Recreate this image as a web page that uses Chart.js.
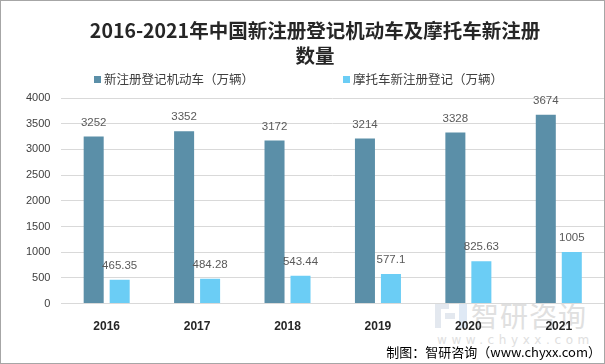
<!DOCTYPE html>
<html><head><meta charset="utf-8">
<script src="https://cdn.jsdelivr.net/npm/chart.js@4"></script>
<style>
html,body{margin:0;padding:0;background:#fff;}
#wrap{position:relative;width:605px;height:364px;box-sizing:border-box;border:1px solid #a6a6a6;overflow:hidden;}
canvas{position:absolute;left:0;top:0;}
.wm{position:absolute;color:#e0e0e0;font-family:"Noto Sans CJK SC";line-height:1;white-space:nowrap;}
.lg{position:absolute;background:#e3e8ef;}
</style></head><body>
<div id="wrap">
<div class="lg" style="left:434px;top:302px;width:14px;height:6px;"></div>
<div class="lg" style="left:434px;top:308px;width:6px;height:19px;"></div>
<div class="lg" style="left:444px;top:312px;width:10px;height:6px;"></div>
<div class="lg" style="left:458px;top:302px;width:8px;height:25px;background:#dfe9f5;"></div>
<div class="wm" style="left:470px;top:300px;font-size:28px;letter-spacing:1px;">智研咨询</div>
<div class="wm" style="left:436px;top:333px;font-size:12px;letter-spacing:4.6px;font-family:'DejaVu Sans';">www.chyxx.com</div>
<canvas id="c" width="603" height="362"></canvas>
</div>
<script>
const categories = ['2016','2017','2018','2019','2020','2021'];
const motorVehicles = [3252, 3352, 3172, 3214, 3328, 3674];
const motorcycles = [465.35, 484.28, 543.44, 577.1, 825.63, 1005];
const seriesNames = ['新注册登记机动车（万辆）', '摩托车新注册登记（万辆）'];
const seriesColors = ['#5b8fa8', '#6bcdf5'];
const yTicks = [0, 500, 1000, 1500, 2000, 2500, 3000, 3500, 4000];
const titleLines = ['2016-2021年中国新注册登记机动车及摩托车新注册', '数量'];
const sourceText = '制图：智研咨询（www.chyxx.com）';

const labelPlugin = {
  id: 'valueLabels',
  afterDatasetsDraw(chart) {
    const ctx = chart.ctx;
    ctx.save();
    ctx.font = '11.5px "Liberation Sans", Arial, sans-serif';
    ctx.fillStyle = '#595959';
    ctx.textAlign = 'center';
    ctx.textBaseline = 'middle';
    chart.data.datasets.forEach((ds, i) => {
      const meta = chart.getDatasetMeta(i);
      meta.data.forEach((bar, j) => {
        ctx.fillText(String(ds.data[j]), bar.x, bar.y - 14);
      });
    });
    ctx.restore();
  }
};
const headerPlugin = {
  id: 'header',
  afterDraw(chart) {
    const ctx = chart.ctx;
    ctx.save();
    ctx.font = 'bold 19.5px "Noto Sans CJK SC", sans-serif';
    ctx.fillStyle = '#262626';
    ctx.textAlign = 'center';
    ctx.textBaseline = 'middle';
    ctx.fillText(titleLines[0], 314, 30);
    ctx.fillText(titleLines[1], 314, 55);
    ctx.font = '12.5px "Noto Sans CJK SC", sans-serif';
    ctx.textAlign = 'left';
    const xs = [93, 342];
    chart.data.datasets.forEach((ds, i) => {
      ctx.fillStyle = seriesColors[i];
      ctx.fillRect(xs[i], 75, 7, 7);
      ctx.fillStyle = '#404040';
      ctx.fillText(ds.label, xs[i] + 10, 78);
    });
    ctx.font = '13px "Noto Sans CJK SC", sans-serif';
    ctx.fillStyle = '#000';
    ctx.textAlign = 'right';
    ctx.fillText(sourceText, 600, 351);
    ctx.restore();
  }
};

new Chart(document.getElementById('c'), {
  type: 'bar',
  data: {
    labels: categories,
    datasets: [
      { label: seriesNames[0], data: motorVehicles, backgroundColor: seriesColors[0], categoryPercentage: 0.575, barPercentage: 0.77 },
      { label: seriesNames[1], data: motorcycles, backgroundColor: seriesColors[1], categoryPercentage: 0.575, barPercentage: 0.77 }
    ]
  },
  options: {
    responsive: false,
    animation: false,
    layout: { padding: { left: 14, right: 0, top: 97, bottom: 21 } },
    plugins: {
      title: { display: false },
      legend: { display: false },
      tooltip: { enabled: false }
    },
    scales: {
      x: {
        grid: { display: false },
        border: { color: '#d9d9d9' },
        ticks: { color: '#262626', font: { family: '"Liberation Sans", Arial, sans-serif', size: 12, weight: 'bold' }, padding: 8 }
      },
      y: {
        min: 0, max: 4000,
        afterBuildTicks(axis) { axis.ticks = yTicks.map(v => ({ value: v })); },
        grid: { color: '#d9d9d9', drawTicks: false },
        border: { display: false },
        ticks: { color: '#404040', font: { family: '"Liberation Sans", Arial, sans-serif', size: 11 }, padding: 11, callback: v => String(v) }
      }
    }
  },
  plugins: [labelPlugin, headerPlugin]
});
</script>
</body></html>
